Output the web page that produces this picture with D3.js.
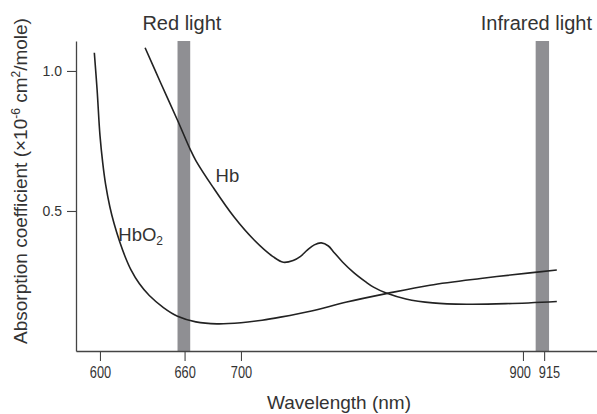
<!DOCTYPE html>
<html>
<head>
<meta charset="utf-8">
<script src="https://cdn.jsdelivr.net/npm/d3@7"></script>
<style>
  body { margin: 0; background: #fff; }
  svg { display: block; }
</style>
</head>
<body>
<div id="chart"></div>
<script>
const w = 597;
const h = 414;
const margin = {top: 41, right: 0, bottom: 63, left: 76};

// wavelength (nm) / absorption coefficient
const hbO2Nm  = [596, 598, 600, 602, 604, 607, 610, 614, 618, 622, 628, 635, 645, 655, 668, 683, 700, 715, 728, 750, 775, 803, 834, 870, 905, 924];
const hbO2Abs = [1.065, 0.93, 0.77, 0.67, 0.595, 0.515, 0.455, 0.39, 0.335, 0.29, 0.24, 0.198, 0.155, 0.124, 0.104, 0.097, 0.101, 0.11, 0.121, 0.143, 0.175, 0.205, 0.235, 0.259, 0.279, 0.289];

const hbNm  = [632, 643, 655, 664, 668, 680, 695, 709, 723, 730, 737, 742, 747, 752, 757, 762, 766, 772, 780, 789, 794, 803, 817, 836, 860, 888, 924];
const hbAbs = [1.083, 0.958, 0.824, 0.72, 0.68, 0.586, 0.479, 0.398, 0.336, 0.317, 0.323, 0.337, 0.36, 0.379, 0.386, 0.375, 0.352, 0.318, 0.28, 0.245, 0.228, 0.207, 0.186, 0.172, 0.167, 0.169, 0.177];

const bandNames = ["Red light", "Infrared light"];
const bandFrom  = [655, 909];
const bandTo    = [664, 918.5];

const xTicks = [600, 660, 700, 900, 915];
const yTicks = [0.5, 1.0];

const curveNames = ["Hb", "HbO"];
const curveLabelNm  = [682, 613];
const curveLabelAbs = [0.605, 0.393];

const width = w - margin.left - margin.right,
      height = h - margin.top - margin.bottom;

const svg = d3.select("#chart").append("svg")
    .attr("width", w)
    .attr("height", h)
    .style("font-family", "Helvetica, Arial, 'Liberation Sans', sans-serif");

const x = d3.scaleLinear().domain([583, 952.5]).range([margin.left, w - margin.right]);
const y = d3.scaleLinear().domain([0, 1.107]).range([h - margin.bottom, margin.top]);

// light bands
svg.selectAll("rect.band")
    .data(bandNames)
    .enter().append("rect")
    .attr("class", "band")
    .attr("x", (d, i) => x(bandFrom[i]))
    .attr("width", (d, i) => x(bandTo[i]) - x(bandFrom[i]))
    .attr("y", y(1.107))
    .attr("height", y(0) - y(1.107))
    .attr("fill", "#8f8f93");

svg.selectAll("text.bandLabel")
    .data(bandNames)
    .enter().append("text")
    .attr("class", "bandLabel")
    .attr("x", (d, i) => i === 0 ? x((bandFrom[i] + bandTo[i]) / 2) - 2 : x((bandFrom[i] + bandTo[i]) / 2) - 6)
    .attr("y", 30)
    .attr("text-anchor", "middle")
    .attr("font-size", "20px")
    .attr("fill", "#333")
    .text(d => d);

// axes
const xAxis = svg.append("g")
    .attr("transform", "translate(0," + y(0) + ")")
    .call(d3.axisBottom(x).tickValues(xTicks).tickSize(10).tickSizeOuter(0).tickPadding(6));
xAxis.select(".domain").attr("stroke", "#444").attr("stroke-width", 1.3);
xAxis.selectAll(".tick line").attr("stroke", "#444").attr("stroke-width", 1.1);
// condensed digits like the original; 900 and 915 pushed apart a little
xAxis.selectAll(".tick text")
    .attr("font-family", "Helvetica, Arial, 'Liberation Sans', sans-serif")
    .attr("font-size", "16px")
    .attr("transform", "scale(0.8,1)")
    .attr("dx", d => d === 900 ? -4 : d === 915 ? 6 : 0)
    .attr("fill", "#333");

const yAxis = svg.append("g")
    .attr("transform", "translate(" + margin.left + ",0)")
    .call(d3.axisLeft(y).tickValues(yTicks).tickFormat(d3.format(".1f")).tickSize(9).tickSizeOuter(0).tickPadding(5));
yAxis.select(".domain").attr("stroke", "#444").attr("stroke-width", 1.3);
yAxis.selectAll(".tick line").attr("stroke", "#444").attr("stroke-width", 1.1);
yAxis.selectAll(".tick text")
    .attr("font-family", "Helvetica, Arial, 'Liberation Sans', sans-serif")
    .attr("font-size", "14px")
    .attr("fill", "#333");

// curves
const line = d3.line()
    .x(d => x(d[0]))
    .y(d => y(d[1]))
    .curve(d3.curveCatmullRom.alpha(0.5));

svg.append("path")
    .datum(hbO2Nm.map((d, i) => [d, hbO2Abs[i]]))
    .attr("fill", "none")
    .attr("stroke", "#222")
    .attr("stroke-width", 1.6)
    .attr("d", line);

svg.append("path")
    .datum(hbNm.map((d, i) => [d, hbAbs[i]]))
    .attr("fill", "none")
    .attr("stroke", "#222")
    .attr("stroke-width", 1.6)
    .attr("d", line);

// curve labels
const curveLabels = svg.selectAll("text.curveLabel")
    .data(curveNames)
    .enter().append("text")
    .attr("class", "curveLabel")
    .attr("x", (d, i) => x(curveLabelNm[i]))
    .attr("y", (d, i) => y(curveLabelAbs[i]))
    .attr("font-size", "18.5px")
    .attr("fill", "#333")
    .text(d => d);

curveLabels.filter(d => d === "HbO")
    .append("tspan")
    .attr("dy", 4)
    .attr("font-size", "12px")
    .text("2");

// axis titles
svg.append("text")
    .attr("x", 339)
    .attr("y", 409)
    .attr("text-anchor", "middle")
    .attr("font-size", "19px")
    .attr("fill", "#333")
    .text("Wavelength (nm)");

const yTitle = svg.append("text")
    .attr("transform", "translate(27,181) rotate(-90)")
    .attr("text-anchor", "middle")
    .attr("font-size", "19px")
    .attr("fill", "#333");
yTitle.append("tspan").text("Absorption coefficient (\u00d710");
yTitle.append("tspan").attr("dy", -7).attr("font-size", "12px").text("-6");
yTitle.append("tspan").attr("dy", 7).text(" cm");
yTitle.append("tspan").attr("dy", -7).attr("font-size", "12px").text("2");
yTitle.append("tspan").attr("dy", 7).text("/mole)");
</script>
</body>
</html>
